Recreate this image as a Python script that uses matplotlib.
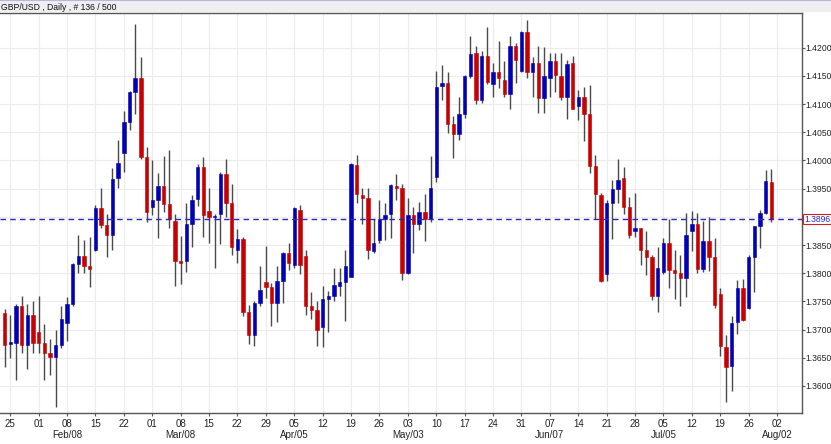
import matplotlib
matplotlib.use("Agg")
import matplotlib.pyplot as plt
import numpy as np
import pandas as pd

plt.rcParams['font.family'] = ['Liberation Sans', 'DejaVu Sans']

title_text = "GBP/USD , Daily , # 136 / 500"
dates = pd.bdate_range("2021-01-22", "2021-07-30")

opens = [1.3730, 1.3675, 1.3677, 1.3742, 1.3673, 1.3726, 1.3696, 1.3677, 1.3659, 1.3651,
         1.3673, 1.3711, 1.3745, 1.3816, 1.3830, 1.3812, 1.3841, 1.3915, 1.3886, 1.3868,
         1.3968, 1.4013, 1.4069, 1.4122, 1.4147, 1.4006, 1.3917, 1.3929, 1.3955, 1.3923,
         1.3893, 1.3822, 1.3822, 1.3887, 1.3931, 1.3989, 1.3911, 1.3899, 1.3905, 1.3976,
         1.3925, 1.3841, 1.3860, 1.3732, 1.3690, 1.3748, 1.3785, 1.3776, 1.3747, 1.3787,
         1.3835, 1.3815, 1.3913, 1.3830, 1.3742, 1.3735, 1.3704, 1.3755, 1.3760, 1.3778,
         1.3785, 1.3794, 1.3992, 1.3939, 1.3933, 1.3840, 1.3859, 1.3896, 1.3905, 1.3955,
         1.3951, 1.3800, 1.3903, 1.3888, 1.3909, 1.3896, 1.3970, 1.4132, 1.4137, 1.4065,
         1.4047, 1.4082, 1.4150, 1.4190, 1.4108, 1.4185, 1.4136, 1.4156, 1.4143, 1.4118,
         1.4203, 1.4159, 1.4228, 1.4156, 1.4173, 1.4110, 1.4146, 1.4177, 1.4150, 1.4112,
         1.4172, 1.4097, 1.4112, 1.4082, 1.3990, 1.3939, 1.3799, 1.3925, 1.3950, 1.3968,
         1.3917, 1.3875, 1.3881, 1.3842, 1.3829, 1.3760, 1.3803, 1.3854, 1.3806, 1.3801,
         1.3791, 1.3875, 1.3887, 1.3807, 1.3858, 1.3828, 1.3763, 1.3670, 1.3635, 1.3714,
         1.3773, 1.3738, 1.3828, 1.3884, 1.3907, 1.3962]
highs = [1.3736, 1.3726, 1.3745, 1.3760, 1.3745, 1.3751, 1.3760, 1.3710, 1.3684, 1.3699,
         1.3742, 1.3757, 1.3819, 1.3868, 1.3859, 1.3864, 1.3921, 1.3952, 1.3905, 1.3986,
         1.4037, 1.4088, 1.4124, 1.4242, 1.4184, 1.4023, 1.4000, 1.3978, 1.4008, 1.4019,
         1.3905, 1.3866, 1.3925, 1.3939, 1.3994, 1.4007, 1.3951, 1.3905, 1.3980, 1.4002,
         1.3959, 1.3878, 1.3864, 1.3744, 1.3750, 1.3813, 1.3848, 1.3783, 1.3813, 1.3838,
         1.3853, 1.3917, 1.3921, 1.3841, 1.3766, 1.3750, 1.3777, 1.3769, 1.3810, 1.3810,
         1.3841, 1.3996, 1.4010, 1.3951, 1.3951, 1.3897, 1.3930, 1.3924, 1.3958, 1.3976,
         1.3958, 1.3933, 1.3918, 1.3927, 1.3940, 1.4008, 1.4159, 1.4169, 1.4156, 1.4079,
         1.4112, 1.4152, 1.4221, 1.4203, 1.4195, 1.4236, 1.4172, 1.4211, 1.4177, 1.4221,
         1.4209, 1.4230, 1.4249, 1.4184, 1.4203, 1.4201, 1.4191, 1.4191, 1.4191, 1.4179,
         1.4185, 1.4125, 1.4130, 1.4134, 1.4010, 1.3943, 1.3930, 1.3965, 1.4002, 1.3988,
         1.3935, 1.3942, 1.3881, 1.3874, 1.3832, 1.3846, 1.3862, 1.3897, 1.3842, 1.3832,
         1.3907, 1.3911, 1.3907, 1.3893, 1.3899, 1.3862, 1.3773, 1.3690, 1.3724, 1.3788,
         1.3789, 1.3832, 1.3884, 1.3912, 1.3983, 1.3984]
lows = [1.3634, 1.3649, 1.3611, 1.3658, 1.3630, 1.3658, 1.3658, 1.3611, 1.3620, 1.3563,
        1.3667, 1.3679, 1.3742, 1.3801, 1.3801, 1.3776, 1.3840, 1.3880, 1.3828, 1.3841,
        1.3952, 1.3980, 1.4054, 1.4082, 1.4002, 1.3890, 1.3903, 1.3862, 1.3909, 1.3880,
        1.3777, 1.3781, 1.3803, 1.3846, 1.3919, 1.3864, 1.3854, 1.3810, 1.3852, 1.3899,
        1.3832, 1.3819, 1.3724, 1.3674, 1.3671, 1.3742, 1.3756, 1.3706, 1.3714, 1.3747,
        1.3806, 1.3810, 1.3799, 1.3726, 1.3718, 1.3671, 1.3670, 1.3695, 1.3750, 1.3760,
        1.3716, 1.3793, 1.3925, 1.3887, 1.3825, 1.3836, 1.3854, 1.3859, 1.3862, 1.3930,
        1.3788, 1.3799, 1.3836, 1.3877, 1.3858, 1.3891, 1.3962, 1.4107, 1.4049, 1.4005,
        1.4037, 1.4076, 1.4147, 1.4100, 1.4102, 1.4136, 1.4112, 1.4128, 1.4112, 1.4092,
        1.4137, 1.4156, 1.4147, 1.4112, 1.4085, 1.4085, 1.4112, 1.4122, 1.4108, 1.4073,
        1.4091, 1.4072, 1.4035, 1.3978, 1.3896, 1.3785, 1.3787, 1.3860, 1.3924, 1.3905,
        1.3862, 1.3865, 1.3815, 1.3797, 1.3752, 1.3732, 1.3799, 1.3773, 1.3754, 1.3742,
        1.3757, 1.3840, 1.3801, 1.3803, 1.3804, 1.3739, 1.3653, 1.3572, 1.3592, 1.3692,
        1.3716, 1.3736, 1.3767, 1.3844, 1.3905, 1.3891]
closes = [1.3673, 1.3678, 1.3742, 1.3673, 1.3726, 1.3677, 1.3677, 1.3659, 1.3651, 1.3673,
          1.3718, 1.3745, 1.3816, 1.3830, 1.3812, 1.3807, 1.3915, 1.3886, 1.3868, 1.3967,
          1.3996, 1.4069, 1.4121, 1.4147, 1.4006, 1.3909, 1.3929, 1.3955, 1.3923, 1.3896,
          1.3822, 1.3819, 1.3887, 1.3930, 1.3989, 1.3903, 1.3900, 1.3902, 1.3976, 1.3925,
          1.3847, 1.3860, 1.3732, 1.3690, 1.3748, 1.3770, 1.3776, 1.3747, 1.3787, 1.3835,
          1.3818, 1.3915, 1.3815, 1.3742, 1.3734, 1.3699, 1.3754, 1.3760, 1.3779, 1.3784,
          1.3813, 1.3994, 1.3940, 1.3933, 1.3841, 1.3853, 1.3897, 1.3903, 1.3956, 1.3951,
          1.3801, 1.3903, 1.3888, 1.3909, 1.3896, 1.3951, 1.4131, 1.4137, 1.4065, 1.4047,
          1.4082, 1.4150, 1.4189, 1.4108, 1.4185, 1.4140, 1.4156, 1.4146, 1.4118, 1.4203,
          1.4178, 1.4228, 1.4157, 1.4173, 1.4110, 1.4149, 1.4177, 1.4152, 1.4112, 1.4171,
          1.4092, 1.4112, 1.4082, 1.3990, 1.3940, 1.3787, 1.3925, 1.3950, 1.3966, 1.3918,
          1.3868, 1.3880, 1.3842, 1.3829, 1.3760, 1.3810, 1.3854, 1.3805, 1.3800, 1.3791,
          1.3868, 1.3887, 1.3807, 1.3858, 1.3829, 1.3744, 1.3671, 1.3634, 1.3712, 1.3773,
          1.3717, 1.3828, 1.3883, 1.3907, 1.3964, 1.3896]

ytick_values = [1.3600, 1.3650, 1.3700, 1.3750, 1.3800, 1.3850, 1.3900,
                1.3950, 1.4000, 1.4050, 1.4100, 1.4150, 1.4200]
xtick_labels = ['25', '01', '08', '15', '22', '01', '08', '15', '22', '29', '05', '12',
                '19', '26', '03', '10', '17', '24', '31', '07', '14', '21', '28', '05',
                '12', '19', '26', '02']
month_labels = {2: 'Feb/08', 6: 'Mar/08', 10: 'Apr/05', 14: 'May/03',
                19: 'Jun/07', 23: 'Jul/05', 27: 'Aug/02'}
current_price = 1.3896

UP = '#0000b4'
DOWN = '#c80000'
WICK = '#4a4a4a'
TXT = '#222222'

fig = plt.figure(figsize=(8.31, 4.44), dpi=100)
fig.patch.set_facecolor('white')

# title strip
strip = fig.add_axes([0, 1 - 12.5 / 444, 1, 12.5 / 444])
strip.set_facecolor('#eeeef3')
strip.set_xticks([]); strip.set_yticks([])
for s in strip.spines.values():
    s.set_visible(False)
strip.text(0.001, 0.42, title_text, fontsize=6.2, va='center', ha='left',
           transform=strip.transAxes, color='#111111')
strip.axhline(1.0, color='#b8b8d8', lw=1.5)

ax = fig.add_axes([0, 1 - 413 / 444, 802 / 831, (413 - 12.5) / 444])
ax.set_facecolor('white')

n = len(opens)
x = np.arange(n)
o = np.array(opens); h = np.array(highs); l = np.array(lows); c = np.array(closes)
up = c >= o
colors = np.where(up, UP, DOWN)

ax.vlines(x, l, h, color=WICK, lw=1.0, zorder=2)
bottoms = np.minimum(o, c)
heights = np.maximum(np.abs(c - o), 0.00012)
ax.bar(x, heights, bottom=bottoms, width=0.6, color=colors, edgecolor=colors,
       linewidth=0.4, zorder=3)

ax.axhline(current_price, color='#2828c0', lw=1.0, ls=(0, (4, 3)), zorder=4)

# x ticks at Mondays
mondays = [i for i in range(n + 5) if i % 5 == 1][:len(xtick_labels)]
ax.set_xticks(mondays)
ax.set_xticklabels(xtick_labels, fontsize=7, color=TXT)
ax.tick_params(axis='x', length=2.5, width=0.8, color='#555555', pad=1.5)
for k, lab in month_labels.items():
    ax.text(mondays[k], -0.042, lab, transform=ax.get_xaxis_transform(),
            ha='center', va='top', fontsize=7, color=TXT)

ax.set_xlim(-0.8, 140.4)
ax.set_ylim(1.35521, 1.42624)

ax.yaxis.tick_right()
ax.set_yticks(ytick_values)
ax.set_yticklabels(['' if abs(v - 1.39) < 1e-9 else f'{v:.4f}' for v in ytick_values],
                   fontsize=6.2, color=TXT)
ax.tick_params(axis='y', length=2, width=0.8, color='#555555', pad=0.4)

ax.grid(True, color='#ececec', lw=0.8, zorder=0)
ax.set_axisbelow(True)
for side in ['top', 'right', 'bottom']:
    ax.spines[side].set_color('#555555')
    ax.spines[side].set_linewidth(1.0)
ax.spines['left'].set_visible(False)

ax.text(1.0025, current_price, f'{current_price:.4f}', transform=ax.get_yaxis_transform(),
        ha='left', va='center', fontsize=6.2, color='#2828c0', zorder=6,
        bbox=dict(boxstyle='square,pad=0.1', fc='white', ec='#d02020', lw=0.8),
        clip_on=False)

fig.savefig('out.png', dpi=100)
